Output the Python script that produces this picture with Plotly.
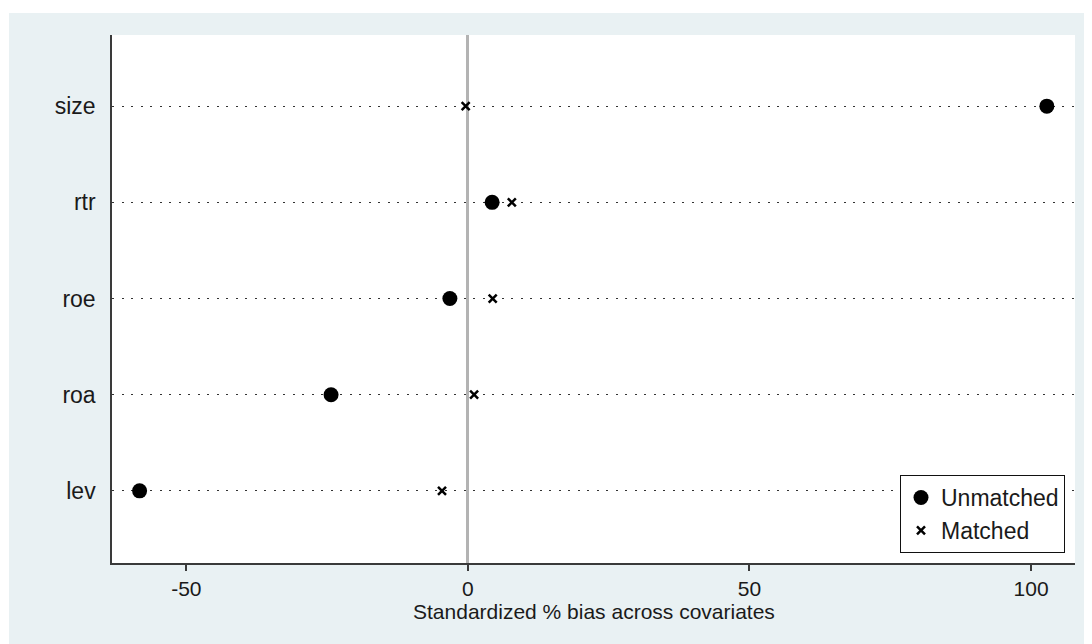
import plotly.graph_objects as go

categories = ["lev", "roa", "roe", "rtr", "size"]
cat_pos = [1, 2, 3, 4, 5]
unmatched = [-58.3, -24.3, -3.2, 4.3, 102.8]
matched = [-4.6, 1.1, 4.4, 7.8, -0.4]
x_ticks = [-50, 0, 50, 100]
x_title = "Standardized % bias across covariates"

# page is rendered with an 8px body margin, so figure coords = page coords - 8
OFF = 8
W, H = 1092 - OFF, 644 - OFF
L, R, T, B = 112 - OFF, 17, 35 - OFF, 81
pw, ph = W - L - R, H - T - B

def px_x(p):
    return (p - OFF - L) / pw

def px_y(p):
    return (H - B - (p - OFF)) / ph

font = "Liberation Sans, Arial, sans-serif"
txt = "#1a1a1a"
fs = 23
fx = 21

fig = go.Figure()
fig.add_trace(go.Scatter(x=unmatched, y=cat_pos, mode="markers", name="Unmatched",
                         marker=dict(symbol="circle", size=15, color="black")))
fig.add_trace(go.Scatter(x=matched, y=cat_pos, mode="markers", name="Matched",
                         marker=dict(symbol="x-thin", size=8, color="black",
                                     line=dict(width=2.5, color="black"))))

fig.update_layout(
    width=W, height=H,
    margin=dict(l=L, r=R, t=T, b=B, autoexpand=False),
    paper_bgcolor="white",
    plot_bgcolor="rgba(0,0,0,0)",
    font=dict(family=font, size=fs, color=txt),
    showlegend=True,
    legend=dict(x=px_x(1065), y=px_y(553), xanchor="right", yanchor="bottom",
                bgcolor="white", bordercolor="#111", borderwidth=1,
                font=dict(size=23, color=txt), itemsizing="trace",
                tracegroupgap=0),
    shapes=[
        dict(type="rect", xref="paper", yref="paper", layer="below",
             x0=px_x(9), x1=px_x(1100), y0=px_y(660), y1=px_y(13),
             fillcolor="#E9F1F3", line=dict(width=0)),
        dict(type="rect", xref="paper", yref="paper", layer="below",
             x0=0, x1=1, y0=0, y1=1,
             fillcolor="white", line=dict(width=0)),
    ],
    annotations=[
        dict(text=x_title, xref="paper", yref="paper", x=0.5, y=px_y(611),
             xanchor="center", yanchor="middle", showarrow=False,
             font=dict(size=fx, color=txt)),
    ],
    xaxis=dict(range=[-63.2, 107.8], tickvals=x_ticks, ticktext=[str(v) for v in x_ticks],
               showgrid=False, zeroline=True, zerolinecolor="#b3b3b3", zerolinewidth=2.5,
               showline=True, linecolor="#3a3a3a", linewidth=1.5,
               ticks="outside", ticklen=6, tickcolor="#3a3a3a", tickwidth=1.5,
               tickfont=dict(size=fx, color=txt)),
    yaxis=dict(range=[0.25, 5.74], tickvals=cat_pos, ticktext=categories,
               showgrid=True, gridcolor="#333", gridwidth=1.2, griddash="2px,7.5px",
               zeroline=False, showline=True, linecolor="#3a3a3a", linewidth=1.5,
               ticks="", ticklabelstandoff=10,
               tickfont=dict(size=fs, color=txt)),
)

fig.write_html("out.html")
